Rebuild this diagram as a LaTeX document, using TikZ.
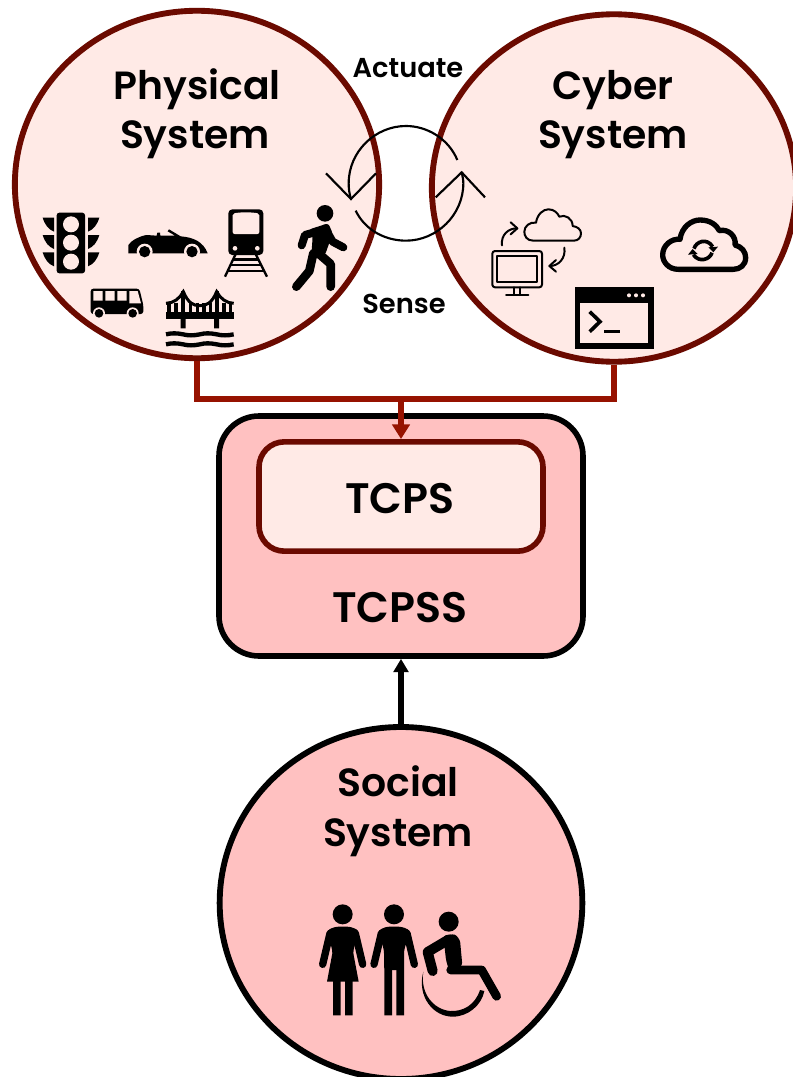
\documentclass[tikz,border=0pt]{standalone}
\usepackage{fontspec}
\setmainfont{Poppins}[BoldFont={Poppins SemiBold}]
\usetikzlibrary{arrows.meta,calc,shapes.geometric}
\definecolor{ringred}{HTML}{6B0A00}
\definecolor{linkred}{HTML}{961200}
\definecolor{palepink}{HTML}{FFEAE6}
\definecolor{rosepink}{HTML}{FFC1C1}
\tikzset{
  x=0.75pt,y=-0.75pt,
  syscircle/.style={ellipse,draw=ringred,line width=4.4pt,fill=palepink,minimum width=273.2pt,minimum height=260.6pt,inner sep=0pt},
  socialcircle/.style={ellipse,draw=black,line width=4.4pt,fill=rosepink,minimum width=272pt,minimum height=264pt,inner sep=0pt},
  title/.style={font=\fontsize{29.5}{34}\selectfont\bfseries,inner sep=0pt,anchor=base},
  boxtitle/.style={font=\fontsize{32}{36}\selectfont\bfseries,inner sep=0pt,anchor=base},
  small/.style={font=\fontsize{20.5}{24}\selectfont\bfseries,inner sep=0pt,anchor=base},
  link/.style={draw=linkred,line width=3.9pt},
  loopline/.style={draw=black,line width=1.6pt},
  zoomed/.style={scale=1/3},
  strokeicon/.style={draw=black,line cap=round,line join=round},
  zw/.style={line width=#1*0.25pt},
}
\begin{document}
\begin{tikzpicture}
\useasboundingbox (0,0) rectangle (792,1077);
\path[fill=white] (0,0) rectangle (792,1077);

% main shapes
\node[syscircle] (phys) at (197,184.5) {};
\node[syscircle] (cyber) at (614,188) {};
\node[socialcircle] (social) at (401,903) {};
\node[draw=black,line width=4.2pt,fill=rosepink,rounded corners=30pt,minimum width=273pt,minimum height=180pt,inner sep=0pt] (tcpss) at (401,536) {};
\node[draw=ringred,line width=4.2pt,fill=palepink,rounded corners=19pt,minimum width=213pt,minimum height=82pt,inner sep=0pt] (tcps) at (401,496.5) {};

% connectors
\coordinate (junction) at (401,399);
\draw[link] (phys.south) |- (junction);
\draw[link] (cyber.south) |- (junction);
\draw[link,-{Triangle[length=11pt,width=13pt]}] (junction) -- (tcps.north);
\draw[draw=black,line width=3.9pt,-{Triangle[length=10pt,width=11pt]}] (social.north) -- (tcpss.south);

% texts
\node[title] (t1) at (197,100) {Physical};
\node[title] (t2) at (195,149) {System};
\node[title] (t3) at (613,100) {Cyber};
\node[title] (t4) at (613,149) {System};
\node[small] (t5) at (408,78) {Actuate};
\node[small] (t6) at (404,313) {Sense};
\node[boxtitle] (t7) at (400,513) {TCPS};
\node[boxtitle] (t8) at (400,622) {TCPSS};
\node[title] (t9) at (398,796) {Social};
\node[title] (t10) at (398,846) {System};

% loop arrows (zoom origin 320,40)
\begin{scope}[shift={(320,40)},zoomed]
\draw[loopline] (412,360) .. controls (385,295) and (320,258) .. (258,258) .. controls (165,258) and (86,335) .. (86,430) .. controls (86,445) and (88,462) .. (93,477);
\draw[loopline] (18,400) -- (93,477) -- (168,400);
\draw[loopline] (107,512) .. controls (135,570) and (195,602) .. (258,602) .. controls (350,602) and (430,525) .. (430,430) .. controls (430,420) and (428,408) .. (425,397);
\draw[loopline] (347,472) -- (425,397) -- (495,472);
\end{scope}

% --- physical icons (zoom origin 20,190)
\begin{scope}[shift={(20,190)},zoomed]
% traffic light
\fill[even odd rule,rounded corners=2pt] (110,68) rectangle (195,250);
\fill[palepink] (153,103) circle[radius=24] (153,158) circle[radius=24] (153,215) circle[radius=24];
\foreach \yy in {0,52,104}{
  \fill (68,\yy+83) -- (102,\yy+83) -- (102,\yy+125) .. controls (85,\yy+118) and (75,\yy+105) .. cycle;
  \fill (238,\yy+83) -- (204,\yy+83) -- (204,\yy+125) .. controls (221,\yy+118) and (231,\yy+105) .. cycle;
}
% car
\fill (325,190) -- (325,165) .. controls (335,150) and (360,138) .. (380,135) -- (410,137) -- (412,128) -- (420,128) -- (421,137) -- (465,137) -- (443,124) -- (447,118) -- (482,139) .. controls (520,142) and (550,155) .. (563,190) -- cycle;
\fill[palepink] (374,185) circle[radius=24];
\fill[palepink] (516,185) circle[radius=24];
\fill (374,185) circle[radius=17]; \fill (516,185) circle[radius=17];
% train
\fill[rounded corners=3pt] (625,58) rectangle (730,195);
\fill[palepink,rounded corners=1.5pt] (638,70) -- (665,67) -- (690,67) -- (718,70) -- (718,132) -- (638,132) -- cycle;
\fill[palepink] (645,175) circle[radius=7] (712,175) circle[radius=7];
\draw[zw=7] (648,190) -- (615,260) (706,190) -- (741,260);
\draw[zw=8] (638,208) -- (718,208) (630,225) -- (726,225) (622,243) -- (734,243);
% walker
\fill (915,70) circle[radius=25];
\draw[strokeicon,zw=24] (880,128) -- (855,135) -- (845,166);
\draw[strokeicon,zw=24] (915,115) -- (938,155) -- (970,172);
\fill[rounded corners=2pt] (868,118) -- (925,100) -- (938,130) -- (915,195) -- (873,210) -- (878,140) -- cycle;
\draw[strokeicon,zw=26] (895,190) -- (932,222) -- (932,290);
\draw[strokeicon,zw=26] (880,190) -- (868,243) -- (829,290);
% bus
\fill[rounded corners=2pt] (212,296) -- (358,296) -- (370,345) -- (370,372) -- (212,372) -- cycle;
\fill[palepink] (220,303) rectangle (248,332) (256,303) rectangle (284,332) (292,303) rectangle (320,332);
\fill[palepink] (328,303) -- (353,303) -- (363,340) -- (328,340) -- cycle;
\fill[palepink] (237,370) circle[radius=18] (338,370) circle[radius=18];
\fill (237,370) circle[radius=13] (338,370) circle[radius=13];
% bridge
\fill (438,367) rectangle (641,386);
\fill (482,386) rectangle (497,415) (582,386) rectangle (597,415);
\draw[zw=12] (490,303) -- (490,370) (590,303) -- (590,370);
\draw[zw=9] (438,340) .. controls (460,340) and (480,325) .. (490,305) .. controls (505,340) and (520,347) .. (540,347) .. controls (560,347) and (575,340) .. (590,305) .. controls (600,325) and (620,340) .. (641,340);
\foreach \xx in {447,468,512,532,552,572,612,632}{ \draw[zw=10] (\xx,338) -- (\xx,370); }
\foreach \yy in {433,463}{
  \draw[zw=13] (438,\yy) .. controls (455,\yy-4) and (470,\yy-4) .. (489,\yy) .. controls (505,\yy+4) and (520,\yy+4) .. (540,\yy) .. controls (555,\yy-4) and (570,\yy-4) .. (590,\yy) .. controls (605,\yy+4) and (625,\yy+4) .. (641,\yy);
}
\end{scope}

% --- cyber icons (zoom origin 480,190)
\begin{scope}[shift={(480,190)},zoomed]
% small cloud
\draw[strokeicon,zw=6] (160,152) .. controls (140,152) and (133,138) .. (133,125) .. controls (133,108) and (150,95) .. (168,98) .. controls (172,72) and (190,58) .. (205,58) .. controls (222,58) and (232,68) .. (238,80) .. controls (255,72) and (278,85) .. (278,108) .. controls (292,110) and (303,118) .. (303,130) .. controls (303,142) and (295,152) .. (282,152) -- cycle;
% monitor
\draw[strokeicon,zw=6,rounded corners=2pt] (37,183) rectangle (186,292);
\draw[strokeicon,zw=6] (52,198) rectangle (172,276);
\draw[strokeicon,zw=6] (101,292) -- (101,315) (120,292) -- (120,315) (78,316) -- (145,316);
% curved arrows
\draw[strokeicon,zw=6] (66,166) .. controls (62,135) and (85,115) .. (110,115);
\draw[strokeicon,zw=6] (92,97) -- (112,115) -- (92,133);
\draw[strokeicon,zw=6] (253,173) .. controls (258,205) and (235,228) .. (210,228);
\draw[strokeicon,zw=6] (228,210) -- (208,228) -- (228,245);
% big cloud
\draw[strokeicon,zw=16] (595,238) .. controls (565,238) and (548,215) .. (548,195) .. controls (548,165) and (575,145) .. (600,148) .. controls (605,110) and (635,90) .. (660,90) .. controls (690,90) and (710,105) .. (718,122) .. controls (745,115) and (770,140) .. (765,165) .. controls (785,170) and (797,185) .. (797,203) .. controls (797,225) and (780,238) .. (760,238) -- cycle;
% sync arrows
\draw[zw=11] (642,176) .. controls (648,155) and (680,142) .. (698,170);
\fill (685,172) -- (714,170) -- (700,187) -- cycle;
\draw[zw=11] (696,188) .. controls (690,208) and (658,220) .. (640,194);
\fill (653,192) -- (624,194) -- (638,177) -- cycle;
% terminal
\fill (284,292) rectangle (521,476);
\fill[palepink] (301,340) rectangle (503,458);
\fill[palepink] (447,316) circle[radius=6] (468,316) circle[radius=6] (489,316) circle[radius=6];
\draw[zw=11] (329,365) -- (360,395) -- (329,425);
\draw[zw=9] (372,423) -- (420,423);
\end{scope}

% --- people icons (zoom origin 300,890)
\begin{scope}[shift={(300,890)},zoomed]
% woman
\fill (128,73) circle[radius=30];
\draw[strokeicon,zw=22] (90,130) -- (68,223);
\draw[strokeicon,zw=22] (166,130) -- (188,223);
\fill[rounded corners=2.5pt] (80,122) -- (105,110) -- (152,110) -- (178,122) -- (160,180) -- (160,200) -- (97,200) -- (97,180) -- cycle;
\fill (97,190) -- (160,190) -- (176,275) -- (81,275) -- cycle;
\fill (99,270) rectangle (122,376) (135,270) rectangle (158,376);
% man
\fill (282,73) circle[radius=30];
\draw[strokeicon,zw=22] (244,130) -- (222,223);
\draw[strokeicon,zw=22] (321,130) -- (343,223);
\fill[rounded corners=2.5pt] (234,122) -- (258,110) -- (306,110) -- (332,122) -- (312,180) -- (312,240) -- (252,240) -- (252,180) -- cycle;
\fill (253,230) rectangle (276,376) (289,230) rectangle (312,376);
% wheelchair
\fill (446,95) circle[radius=30];
\draw[strokeicon,zw=30] (447,148) -- (383,186) -- (398,243);
\fill[rounded corners=2pt] (430,137) -- (465,132) -- (480,150) -- (487,226) -- (450,252) -- (438,210) -- cycle;
\draw[strokeicon,zw=26] (452,240) -- (545,240) -- (590,319);
\fill (370,245) .. controls (350,320) and (400,380) .. (458,380) .. controls (505,380) and (545,345) .. (553,303) -- (540,300) .. controls (525,345) and (490,365) .. (450,363) .. controls (400,358) and (360,310) .. cycle;
\end{scope}
\end{tikzpicture}
\end{document}
